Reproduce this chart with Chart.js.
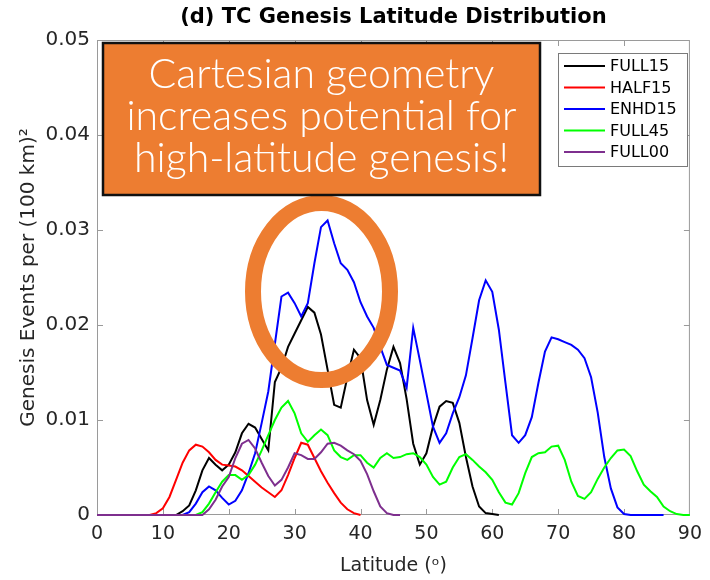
<!DOCTYPE html>
<html>
<head>
<meta charset="utf-8">
<script src="https://cdn.jsdelivr.net/npm/chart.js@4.4.0/dist/chart.umd.min.js"></script>
<style>
html, body { margin: 0; padding: 0; background: #fff; }
#wrap { width: 710px; height: 580px; }
</style>
</head>
<body>
<div id="wrap"><canvas id="genesis-chart"></canvas></div>
<script>
// latitude step between samples (degrees); every series starts at 0
const latStep = 1;
const seriesNames = ["FULL15", "HALF15", "ENHD15", "FULL45", "FULL00"];
const seriesColors = ["#000000", "#ff0000", "#0000ff", "#00ff00", "#7e2f8e"];

const full15 = [0,0,0,0,0,0,0,0,0,0,0,0,0,
    0.0004,0.001,0.0026,0.0047,0.006,0.0053,0.0047,
    0.0053,0.0066,0.0086,0.0096,0.0092,0.008,0.0068,0.014,0.0155,0.0177,
    0.0191,0.0205,0.0219,0.0213,0.019,0.0153,0.0116,0.0113,0.0145,0.0174,
    0.0165,0.0121,0.0095,0.0121,0.0153,0.0177,0.016,0.0122,0.0075,0.0053,
    0.0065,0.0093,0.0114,0.012,0.0118,0.0097,0.0061,0.003,0.0009,0.0002,
    0.0001,0];
const half15 = [0,0,0,0,0,0,0,0,0,
    0.0002,0.0007,0.0019,0.0037,0.0055,0.0068,0.0074,0.0072,0.0066,0.0058,0.0053,
    0.0052,0.0051,0.0047,0.0041,0.0035,0.0029,0.0024,0.0019,0.0026,0.0042,
    0.006,0.0076,0.0074,0.006,0.0046,0.0034,0.0023,0.0013,0.0006,0.0002,
    0];
const enhd15 = [0,0,0,0,0,0,0,0,0,0,0,0,0,0,
    0.0003,0.0012,0.0024,0.003,0.0026,0.0018,
    0.0011,0.0015,0.0026,0.0044,0.0065,0.0097,0.013,0.018,0.023,0.0234,
    0.0223,0.0209,0.0223,0.0265,0.0303,0.031,0.0286,0.0265,0.0258,0.0245,
    0.0224,0.0209,0.0197,0.0177,0.0158,0.0155,0.0152,0.0134,0.0197,0.0163,
    0.0128,0.0093,0.0076,0.0086,0.0107,0.0124,0.0147,0.0186,0.0226,0.0247,
    0.0235,0.0195,0.0139,0.0084,0.0076,0.0084,0.0103,0.0139,0.0172,0.0187,
    0.0185,0.0182,0.0179,0.0174,0.0165,0.0145,0.0108,0.0061,0.0028,0.0008,
    0.0001,0,0,0,0,0,0];
const full45 = [0,0,0,0,0,0,0,0,0,0,0,0,0,0,0,0,
    0.0003,0.0012,0.0024,0.0035,
    0.0042,0.0042,0.0037,0.0042,0.0053,0.0068,0.0084,0.01,0.0113,0.012,
    0.0107,0.0086,0.0077,0.0084,0.009,0.0084,0.0068,0.0061,0.0058,0.0063,
    0.0063,0.0055,0.005,0.006,0.0065,0.006,0.0061,0.0064,0.0065,0.0061,
    0.0053,0.004,0.0032,0.0035,0.005,0.0061,0.0064,0.0058,0.0051,0.0045,
    0.0037,0.0024,0.0013,0.0011,0.0023,0.0044,0.0061,0.0065,0.0066,0.0072,
    0.0073,0.0058,0.0035,0.002,0.0017,0.0024,0.0038,0.005,0.006,0.0068,
    0.0069,0.0062,0.0046,0.0032,0.0025,0.0019,0.0009,0.0004,0.0001,0,
    0];
const full00 = [0,0,0,0,0,0,0,0,0,0,0,0,0,0,0,0,0,
    0.0006,0.0016,0.003,
    0.004,0.006,0.0075,0.0079,0.007,0.0055,0.0041,0.0031,0.0037,0.005,
    0.0065,0.0063,0.0059,0.0059,0.0066,0.0075,0.0076,0.0073,0.0068,0.0064,
    0.0057,0.0043,0.0025,0.0009,0.0002,0,0];

const xTicks = [0, 10, 20, 30, 40, 50, 60, 70, 80, 90];
const yTicks = [0, 0.01, 0.02, 0.03, 0.04, 0.05];
const calloutLines = ["Cartesian geometry", "increases potential for", "high-latitude genesis!"];

const allSeries = [full15, half15, enhd15, full45, full00];
const toPoints = vals => vals.map((v, i) => ({x: i * latStep, y: v}));

const FONT = "'DejaVu Sans', 'Liberation Sans', sans-serif";
const ORANGE = "#ed7d31";

// axes box with inward ticks, under the lines
const axesBox = {
    id: 'axesBox',
    beforeDatasetsDraw(chart) {
        const {ctx, chartArea: a, scales: {x, y}} = chart;
        ctx.save();
        ctx.strokeStyle = "#9a9a9a";
        ctx.lineWidth = 1;
        ctx.strokeRect(a.left + 0.5, a.top + 0.5, a.width - 1, a.height - 1);
        ctx.beginPath();
        xTicks.slice(1, -1).forEach(t => {
            const px = Math.round(x.getPixelForValue(t)) + 0.5;
            ctx.moveTo(px, a.bottom); ctx.lineTo(px, a.bottom - 6);
            ctx.moveTo(px, a.top); ctx.lineTo(px, a.top + 6);
        });
        yTicks.slice(1, -1).forEach(t => {
            const py = Math.round(y.getPixelForValue(t)) + 0.5;
            ctx.moveTo(a.left, py); ctx.lineTo(a.left + 6, py);
            ctx.moveTo(a.right, py); ctx.lineTo(a.right - 6, py);
        });
        ctx.stroke();
        ctx.restore();
    }
};

// legend and the orange callout, over the lines
const overlay = {
    id: 'overlay',
    afterDatasetsDraw(chart) {
        const {ctx} = chart;
        ctx.save();

        ctx.fillStyle = "#fff";
        ctx.fillRect(558, 53, 129, 113);
        ctx.strokeStyle = "#7a7a7a";
        ctx.lineWidth = 1;
        ctx.strokeRect(558.5, 53.5, 129, 113);
        ctx.font = "16px " + FONT;
        ctx.textBaseline = "middle";
        ctx.textAlign = "left";
        seriesNames.forEach((name, i) => {
            const ry = 66 + i * 21.5;
            ctx.strokeStyle = seriesColors[i];
            ctx.lineWidth = 2;
            ctx.beginPath();
            ctx.moveTo(564, ry); ctx.lineTo(605, ry);
            ctx.stroke();
            ctx.fillStyle = "#000";
            ctx.fillText(name, 610, ry + 1);
        });

        ctx.strokeStyle = ORANGE;
        ctx.lineWidth = 16;
        ctx.beginPath();
        ctx.ellipse(321.5, 291.5, 68.5, 88.5, 0, 0, Math.PI * 2);
        ctx.stroke();

        ctx.fillStyle = ORANGE;
        ctx.fillRect(103, 43, 437, 152);
        ctx.strokeStyle = "#111";
        ctx.lineWidth = 2.5;
        ctx.strokeRect(103, 43, 437, 152);
        ctx.fillStyle = "#fff";
        ctx.font = "300 41px Lato, 'Open Sans', sans-serif";
        ctx.textAlign = "center";
        ctx.textBaseline = "alphabetic";
        calloutLines.forEach((line, i) => ctx.fillText(line, 321.5, 88 + i * 42));

        ctx.restore();
    }
};

new Chart(document.getElementById("genesis-chart"), {
    type: 'line',
    data: {
        datasets: allSeries.map((vals, i) => ({
            label: seriesNames[i],
            data: toPoints(vals),
            borderColor: seriesColors[i],
            borderWidth: 2,
            pointRadius: 0,
            tension: 0,
            fill: false,
            clip: 3,
            order: allSeries.length - i
        }))
    },
    options: {
        responsive: true,
        maintainAspectRatio: false,
        animation: false,
        layout: { padding: { left: 0, right: 13, top: 0, bottom: 0 } },
        plugins: {
            legend: { display: false },
            tooltip: { enabled: false },
            title: {
                display: true,
                fullSize: false,
                text: '(d) TC Genesis Latitude Distribution',
                color: '#000',
                font: { family: FONT, size: 21, weight: 'bold', lineHeight: 1.2 },
                padding: { top: 5, bottom: 9.8 }
            }
        },
        scales: {
            x: {
                type: 'linear',
                min: 0, max: 90,
                afterBuildTicks: s => { s.ticks = xTicks.map(v => ({value: v})); },
                afterFit: s => { s.height = 65; },
                grid: { display: false, drawTicks: false },
                border: { display: false },
                ticks: { color: '#262626', font: { family: FONT, size: 19 }, padding: 8, maxRotation: 0 },
                title: {
                    display: true,
                    text: 'Latitude (ᵒ)',
                    color: '#262626',
                    font: { family: FONT, size: 19, lineHeight: 1.2 },
                    padding: { top: 0, bottom: 3 }
                }
            },
            y: {
                min: 0, max: 0.05,
                afterBuildTicks: s => { s.ticks = yTicks.map(v => ({value: v})); },
                afterFit: s => { s.width = 97; },
                grid: { display: false, drawTicks: false },
                border: { display: false },
                ticks: {
                    color: '#262626',
                    font: { family: FONT, size: 20 },
                    padding: 7,
                    callback: v => v === 0 ? '0' : v.toFixed(2)
                },
                title: {
                    display: true,
                    text: 'Genesis Events per (100 km)²',
                    color: '#262626',
                    font: { family: FONT, size: 20, lineHeight: 1.2 },
                    padding: { top: 17, bottom: 0 }
                }
            }
        }
    },
    plugins: [axesBox, overlay]
});
</script>
</body>
</html>
